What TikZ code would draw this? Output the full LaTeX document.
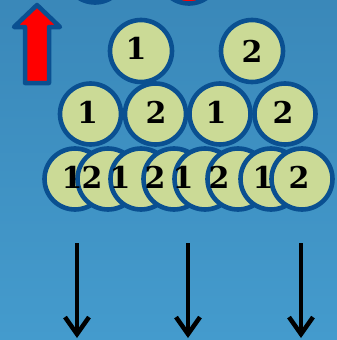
\documentclass[tikz,border=0pt]{standalone}
\usepackage{fontspec}
\setmainfont{DejaVu Serif}
\usetikzlibrary{arrows.meta}
\definecolor{bgtop}{RGB}{58,136,185}
\definecolor{bgbot}{RGB}{68,155,205}
\definecolor{ballfill}{RGB}{203,218,150}
\definecolor{ballrim}{RGB}{10,80,145}
\definecolor{arrred}{RGB}{255,0,0}
\tikzset{
  ball/.style={circle,draw=ballrim,fill=ballfill,line width=4.6pt,minimum size=61pt,inner sep=0pt},
  redball/.style={ball,fill=arrred},
  digit/.style={inner sep=0pt,font=\bfseries\fontsize{30}{30}\selectfont,text=black},
  downarrow/.style={line width=4.5pt,-{Straight Barb[length=17pt,width=24pt]}},
}
\begin{document}
\begin{tikzpicture}[x=1pt,y=-1pt]
\shade[top color=bgtop,bottom color=bgbot] (0,0) rectangle (337,340);
\useasboundingbox (0,0) rectangle (337,340);
\begin{scope}
\clip (0,0) rectangle (337,340);
\node[ball] (ta) at (95,-28) {};
\node[redball] (tb) at (189,-27) {};
\end{scope}
% red up arrow
\draw[ballrim,fill=arrred,line width=4.5pt,line join=round]
  (37,5) -- (60,27) -- (49,27) -- (49,83) -- (25,83) -- (25,27) -- (14,27) -- cycle;
% row 1
\node[ball,minimum size=62pt] (a1) at (141,51) {};
\node[ball,minimum size=62pt] (a2) at (252,51) {};
% row 2
\node[ball] (b1) at (90.5,114) {};
\node[ball] (b2) at (155.5,114) {};
\node[ball] (b3) at (220,114) {};
\node[ball] (b4) at (285,114) {};
% row 3
\node[ball] (c1) at (75,179) {};
\node[ball] (c2) at (108,179) {};
\node[ball] (c3) at (141,179) {};
\node[ball] (c4) at (174,179) {};
\node[ball] (c5) at (205,179) {};
\node[ball] (c6) at (238,179) {};
\node[ball] (c7) at (271,179) {};
\node[ball] (c8) at (302,179) {};
% digits
\node[digit] (ta1) at (136,48) {1};
\node[digit] (ta2) at (252,51) {2};
\node[digit] (tb1) at (87.5,112) {1};
\node[digit] (tb2) at (156,112) {2};
\node[digit] (tb3) at (216,112) {1};
\node[digit] (tb4) at (283,112) {2};
\node[digit] (tc1) at (72,177) {1};
\node[digit] (tc2) at (92,177) {2};
\node[digit] (tc3) at (120,177) {1};
\node[digit] (tc4) at (155,177) {2};
\node[digit] (tc5) at (183,177) {1};
\node[digit] (tc6) at (219,177) {2};
\node[digit] (tc7) at (263,177) {1};
\node[digit] (tc8) at (299,177) {2};
% down arrows
\coordinate (s1) at (77,243); \coordinate (e1) at (77,338);
\coordinate (s2) at (188,243); \coordinate (e2) at (188,338);
\coordinate (s3) at (301,243); \coordinate (e3) at (301,338);
\draw[downarrow] (s1) -- (e1);
\draw[downarrow] (s2) -- (e2);
\draw[downarrow] (s3) -- (e3);
\end{tikzpicture}
\end{document}
